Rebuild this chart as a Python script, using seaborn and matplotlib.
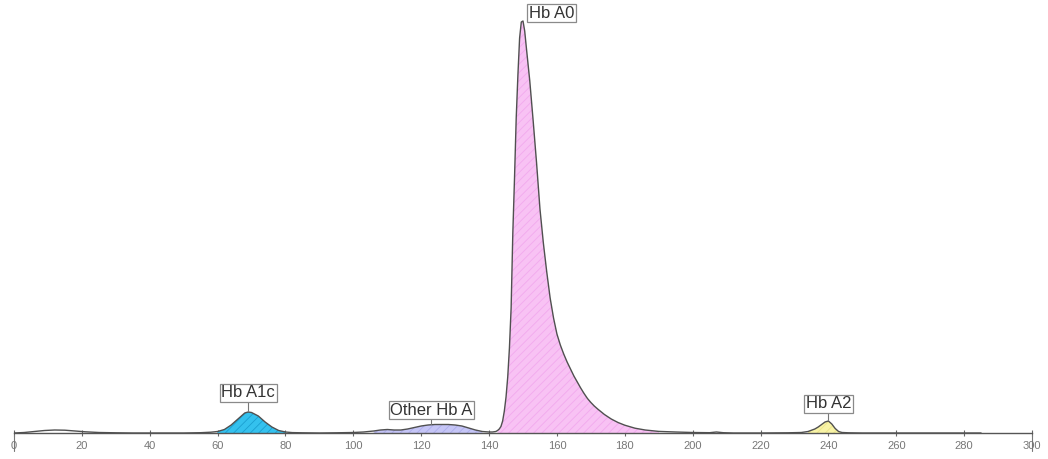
import matplotlib
matplotlib.use("Agg")
import matplotlib.pyplot as plt
import seaborn as sns
import pandas as pd
import numpy as np

# ---- data ----
time = [0, 3, 6, 9, 12, 15, 18, 21, 25, 30, 35, 40, 45, 50, 55, 58, 60, 62, 64, 66,
        68, 69, 70, 72, 74, 76, 78, 80, 82, 85, 90, 95, 100, 103, 106, 108, 110, 112,
        114, 116, 118, 120, 122, 124, 126, 128, 130, 132, 134, 136, 138, 140, 141, 142,
        142.5, 143, 143.5, 144, 144.5, 145, 145.5, 146, 146.5, 147, 147.5, 148, 148.5,
        149, 149.5, 150, 150.5, 151, 152, 153, 154, 155, 156, 157, 158, 159, 160, 161,
        162, 163, 164, 165, 166, 167, 168, 169, 170, 171, 172, 174, 176, 178, 180, 183,
        186, 190, 195, 200, 205, 207, 209, 212,
        220, 228, 232, 234, 236, 237, 238, 239, 240, 241, 242, 243, 244, 246, 250, 260,
        270, 280, 285]
signal = [0, 0.5, 1.5, 2.5, 3, 2.8, 2, 1.2, 0.5, 0.2, 0, 0, 0, 0, 0.3, 0.8, 1.5, 3.5, 8, 14,
          20, 21, 20.5, 17, 11, 6, 2.5, 1, 0.4, 0.2, 0, 0.2, 0.5, 1, 2, 3, 3.5, 3,
          3, 4, 5.5, 7, 8, 8.5, 8.5, 8.5, 8, 7, 5, 3, 1.5, 1, 1, 1.5,
          2.5, 4, 6.5, 12, 22, 36, 56, 85, 125, 200, 255, 315, 358,
          395, 411, 412, 402, 385, 352, 312, 270, 224, 190, 161, 135, 115, 99, 88,
          79, 71, 64, 57, 51, 45, 39.5, 34.5, 30.5, 27, 24, 18.5, 14, 10.5, 7.8, 4.8,
          3, 1.6, 1, 0.5, 0.3, 1, 0.3, 0,
          0, 0.2, 0.5, 1.5, 4, 6, 8.5, 11, 12, 9, 4.5, 1.5, 0.5, 0.2, 0, 0,
          0, 0, 0]

peak_names = ["Hb A1c", "Other Hb A", "Hb A0", "Hb A2"]
peak_start = [59, 104, 142.5, 233]
peak_end = [81, 139, 190, 244]
peak_apex = [69, 123, 149.5, 240]
peak_colors = ["#34c1ee", "#c5c5f6", "#f8c2f4", "#f8f3a6"]
peak_hatch = ["#1b9fd0", "#adadec", "#f2a9ee", "#ece48a"]

xticks = list(range(0, 301, 20))

df = pd.DataFrame({"time": time, "signal": signal})

sns.set_style("white")
plt.rcParams["font.family"] = ["Liberation Sans", "DejaVu Sans"]
plt.rcParams["hatch.linewidth"] = 0.6

fig = plt.figure(figsize=(10.48, 4.59), dpi=100)
ax = fig.add_axes([14 / 1048, 26 / 459, 1018 / 1048, 433 / 459])

t = np.array(time)
s = np.array(signal)
for name, a, b, col, hc in zip(peak_names, peak_start, peak_end, peak_colors, peak_hatch):
    m = (t >= a) & (t <= b)
    ax.fill_between(t[m], 0, s[m], facecolor=col, edgecolor=hc, hatch="////",
                    linewidth=0, zorder=1)

sns.lineplot(data=df, x="time", y="signal", ax=ax, color="#505050", linewidth=1.0,
             zorder=3)

# labels (box bottom gap above apex, in signal units)
box_gap = [10, 5.5, 0, 8]
fs = 12
padf = 0.1
pad_units = padf * fs * 100 / 72  # bbox pad in pixels == signal units here
bbox = dict(boxstyle=f"square,pad={padf}", fc="white", ec="#8a8a8a", lw=0.9)
for name, apex, gap in zip(peak_names, peak_apex, box_gap):
    h = np.interp(apex, t, s)
    if name == "Hb A0":
        ax.text(apex + 2.2, 433 - 4 - pad_units, name, ha="left", va="top",
                fontsize=fs, color="#333333", bbox=bbox, zorder=5)
    else:
        ax.plot([apex, apex], [h + 1, h + gap], color="#777777", lw=0.8, zorder=4)
        ax.text(apex, h + gap + pad_units, name, ha="center", va="bottom",
                fontsize=fs, color="#333333", bbox=bbox, zorder=5)

ax.set_xlim(0, 300)
ax.set_ylim(0, 433)
ax.set_xticks(xticks)
ax.set_xticklabels([str(v) for v in xticks])
ax.set_yticks([])
ax.set_xlabel("")
ax.set_ylabel("")
for sp in ["top", "right", "left"]:
    ax.spines[sp].set_visible(False)
ax.spines["bottom"].set_color("#555555")
ax.spines["bottom"].set_linewidth(1.0)
ax.tick_params(axis="x", direction="inout", length=5, width=0.8, color="#666666",
               labelsize=8, labelcolor="#777777", pad=3, bottom=True)
ax.patch.set_alpha(0)
for xe in [xticks[0], xticks[-1]]:
    ax.plot([xe, xe], [-2, -18], color="#777777", lw=0.8, clip_on=False, zorder=4)

fig.savefig("out.png", dpi=100)
